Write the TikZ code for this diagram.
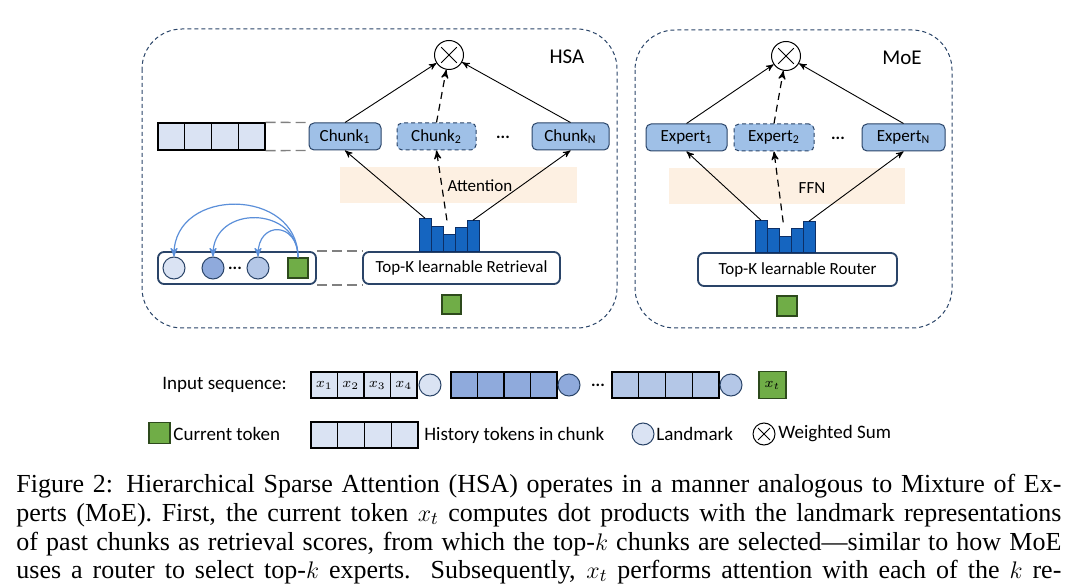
\documentclass[tikz,border=0pt]{standalone}
\usepackage{fontspec}
\setmainfont{Liberation Serif}
\newfontfamily\figsans{Carlito}
\usepackage{tikz}
\usetikzlibrary{calc}
\usetikzlibrary{arrows}
\definecolor{boxnavy}{HTML}{2A4468}
\definecolor{chunkfill}{HTML}{9FC0E7}
\definecolor{celllight}{HTML}{DAE3F3}
\definecolor{celldark}{HTML}{8FAADC}
\definecolor{cellmid}{HTML}{B4C7E7}
\definecolor{barfill}{HTML}{1565C0}
\definecolor{barline}{HTML}{0D2F66}
\definecolor{tokgreen}{HTML}{70AD47}
\definecolor{tokline}{HTML}{2D4A1C}
\definecolor{bandfill}{HTML}{FDF0E2}
\definecolor{arcblue}{HTML}{5B8FD9}
\tikzset{
 panel/.style={draw=boxnavy, line width=0.5pt, dash pattern=on 2pt off 1.5pt, rounded corners=20pt},
 chunk/.style={draw=boxnavy, fill=chunkfill, line width=0.5pt, rounded corners=2.5pt, minimum height=13.5pt, inner sep=0pt, font=\figsans\fontsize{8.5}{10}\selectfont},
 selbox/.style={draw=boxnavy, fill=white, line width=0.9pt, rounded corners=3pt, minimum height=16pt, inner sep=0pt, font=\figsans\fontsize{8.5}{10}\selectfont},
 cell/.style={draw=black, line width=0.6pt, minimum height=13pt, inner sep=0pt, font=\fontsize{7.5}{9}\selectfont},
 lmark/.style={circle, draw=boxnavy, line width=0.5pt, minimum size=11pt, inner sep=0pt},
 token/.style={draw=tokline, fill=tokgreen, line width=0.6pt, minimum size=10pt, inner sep=0pt, font=\fontsize{7.5}{9}\selectfont},
 bar/.style={draw=barline, fill=barfill, line width=0.4pt, minimum width=6pt, inner sep=0pt, anchor=south},
 wsum/.style={circle, draw=black, line width=0.5pt, inner sep=0pt, path picture={
   \draw[line width=0.5pt] ($(path picture bounding box.north west)!0.23!(path picture bounding box.south east)$) -- ($(path picture bounding box.north west)!0.77!(path picture bounding box.south east)$)
   ($(path picture bounding box.north east)!0.23!(path picture bounding box.south west)$) -- ($(path picture bounding box.north east)!0.77!(path picture bounding box.south west)$);}},
 arr/.style={->, >=stealth', line width=0.45pt},
 dsh/.style={dash pattern=on 3.5pt off 2.5pt, line width=0.6pt},
 link/.style={draw=gray, line width=0.7pt, dash pattern=on 5pt off 2.5pt},
 arcarr/.style={->, >=stealth', draw=arcblue, line width=0.6pt},
 lbl/.style={font=\figsans\fontsize{8.5}{10}\selectfont, inner sep=0pt},
 keytext/.style={font=\figsans\fontsize{9.5}{11}\selectfont, inner sep=0pt, anchor=west},
 capline/.style={anchor=base west, inner sep=0pt, font=\fontsize{13}{15}\selectfont},
}

\begin{document}
\begin{tikzpicture}[x=0.5pt,y=-0.5pt]
\useasboundingbox (0,0) rectangle (1080,587);
\draw[panel] (142,29) rectangle (617,328);
\draw[panel] (635,30) rectangle (952,328);
\fill[bandfill] (340,167) rectangle (577,203);
\fill[bandfill] (669,168) rectangle (905,204);
\node[lbl, font=\figsans\fontsize{10.5}{12}\selectfont] (hsa) at (567,57) {HSA};
\node[lbl, font=\figsans\fontsize{10.5}{12}\selectfont] (moe) at (902,58) {MoE};
\node[lbl] (att) at (480,186) {Attention};
\node[lbl] (ffn) at (812,188) {FFN};

\node[wsum, minimum size=14.5pt] (sumH) at (449,55) {};
\node[wsum, minimum size=14.5pt] (sumM) at (786,56) {};

\node[chunk, minimum width=36pt] (ch1) at (345,136.5) {Chunk\textsubscript{1}};
\node[chunk, minimum width=39.5pt, dash pattern=on 2pt off 1.5pt] (ch2) at (436.5,136.5) {Chunk\textsubscript{2}};
\node[lbl] (chdots) at (503,137) {\textbf{...}};
\node[chunk, minimum width=38.5pt] (chN) at (570.5,136.5) {Chunk\textsubscript{N}};
\node[chunk, minimum width=40.5pt] (ex1) at (686.5,137.5) {Expert\textsubscript{1}};
\node[chunk, minimum width=40pt, dash pattern=on 2pt off 1.5pt] (ex2) at (774,137.5) {Expert\textsubscript{2}};
\node[lbl] (exdots) at (838,138) {\textbf{...}};
\node[chunk, minimum width=41.5pt] (exN) at (903.5,137.5) {Expert\textsubscript{N}};

\foreach \i in {1,...,4}
 \node[cell, fill=celllight, minimum width=13.375pt, minimum height=13.5pt] (hc\i) at ({158+26.75*(\i-0.5)},136.5) {};

\node[selbox, minimum width=98.5pt] (ret) at (461.5,268) {Top-K learnable Retrieval};
\node[selbox, minimum width=99.5pt, minimum height=16.5pt] (rou) at (797.5,269.5) {Top-K learnable Router};
\node[selbox, minimum width=79pt] (lmbox) at (237,268) {};

\foreach \i/\x/\h in {1/425/16.5,2/437/12.5,3/449/8.5,4/461/12,5/473/15.5}
 \node[bar, minimum height=\h pt] (hb\i) at (\x,252) {};
\foreach \i/\x/\h in {1/761/16,2/773/12,3/785/8,4/797/12,5/809/15.5}
 \node[bar, minimum height=\h pt] (mb\i) at (\x,253) {};

\node[token, minimum size=9.5pt] (qH) at (451.5,304.5) {};
\node[token] (qM) at (787,306) {};

\node[lmark, fill=celllight] (lc1) at (174,268) {};
\node[lmark, fill=celldark] (lc2) at (213,268) {};
\node[lbl] (lcdots) at (235,268) {\textbf{...}};
\node[lmark, fill=cellmid] (lc3) at (258,268) {};
\node[token] (lq) at (298,268) {};
\draw[arcarr] (lq.north) .. controls +(0,-70) and +(0,-70) .. (lc1.north);
\draw[arcarr] (lq.north) .. controls +(0,-52) and +(0,-52) .. (lc2.north);
\draw[arcarr] (lq.north) .. controls +(0,-36) and +(0,-36) .. (lc3.north);

\draw[arr] (ch1.north) -- (sumH);
\draw[arr, dsh] (ch2.north) -- (sumH);
\draw[arr] (chN.north) -- (sumH);
\draw[arr] (hb1.north) -- (ch1.south);
\draw[arr, dsh, shorten <=7pt] (hb3.north) -- (ch2.south);
\draw[arr] (hb5.north) -- (chN.south);
\draw[arr] (ex1.north) -- (sumM);
\draw[arr, dsh] (ex2.north) -- (sumM);
\draw[arr] (exN.north) -- (sumM);
\draw[arr] (mb1.north) -- (ex1.south);
\draw[arr, dsh, shorten <=7pt] (mb3.north) -- (ex2.south);
\draw[arr] (mb5.north) -- (exN.south);

\draw[link] (hc4.north east) -- (ch1.north west);
\draw[link] (hc4.south east) -- (ch1.south west);
\draw[link] (lmbox.north east) -- (ret.north west);
\draw[link] (lmbox.south east) -- (ret.south west);

\node[keytext] (inlbl) at (162,385) {Input sequence:};
\foreach \i in {1,...,4}
 \node[cell, fill=celllight, minimum width=13.25pt] (xa\i) at ({311+26.5*(\i-0.5)},385) {$x_\i$};
\node[lmark, fill=celllight] (la) at (430,385) {};
\foreach \i in {1,...,4}
 \node[cell, fill=celldark, minimum width=13.25pt] (xb\i) at ({451+26.5*(\i-0.5)},385) {};
\node[lmark, fill=celldark] (lb) at (569,385) {};
\node[lbl] (indots) at (598,385) {\textbf{...}};
\foreach \i in {1,...,4}
 \node[cell, fill=cellmid, minimum width=13.375pt] (xc\i) at ({612+26.75*(\i-0.5)},385) {};
\node[lmark, fill=cellmid] (lcc) at (731,385) {};
\node[token, minimum size=13.5pt] (xt) at (772.5,385) {$x_t$};

\node[token, minimum size=10.5pt] (kq) at (159.5,433) {};
\node[keytext] (kqt) at (173,434) {Current token};
\foreach \i in {1,...,4}
 \node[cell, fill=celllight, minimum width=13.375pt] (kc\i) at ({311+26.75*(\i-0.5)},435) {};
\node[keytext] (kct) at (424,435) {History tokens in chunk};
\node[lmark, fill=celllight] (kl) at (643,434) {};
\node[keytext] (klt) at (656,434) {Landmark};
\node[wsum, minimum size=11pt] (ks) at (764,434) {};
\node[keytext] (kst) at (778,434) {Weighted Sum};

\node[capline] (cap1) at (16,492) {\makebox[522.5pt][s]{Figure 2: Hierarchical Sparse Attention (HSA) operates in a manner analogous to Mixture of Ex-}};
\node[capline] (cap2) at (16,521) {\makebox[522.5pt][s]{perts (MoE). First, the current token $x_t$ computes dot products with the landmark representations}};
\node[capline] (cap3) at (16,550) {\makebox[522.5pt][s]{of past chunks as retrieval scores, from which the top-$k$ chunks are selected---similar to how MoE}};
\node[capline] (cap4) at (16,578) {\makebox[522.5pt][s]{uses a router to select top-$k$ experts.\ \ Subsequently, $x_t$ performs attention with each of the $k$ re-}};
\end{tikzpicture}
\end{document}
